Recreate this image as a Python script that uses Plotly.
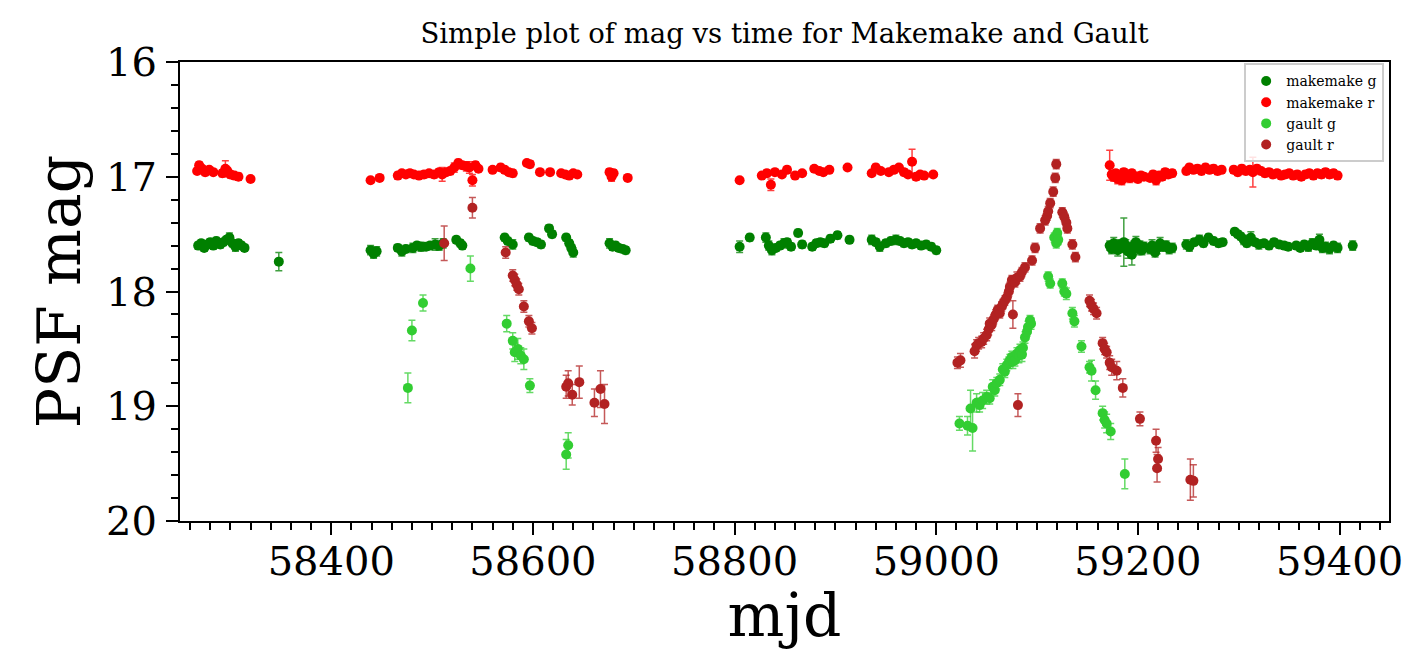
import plotly.graph_objects as go

# ---------------- data ----------------
# Makemake g
mm_g_mjd = [58268, 58271, 58274, 58277, 58280, 58283, 58286, 58290, 58293, 58296, 58299, 58302, 58305, 58308, 58311, 58314,
            58348,
            58439, 58442, 58445, 58466, 58470, 58474, 58481, 58485, 58489, 58494, 58498, 58503, 58507, 58511, 58524, 58528, 58530,
            58572, 58575, 58580, 58596, 58600, 58604, 58608, 58616, 58619, 58633, 58636, 58638, 58640,
            58676, 58679, 58682, 58685, 58689, 58692,
            58805, 58815, 58831, 58834, 58837, 58841, 58845, 58849, 58852, 58856, 58863, 58867, 58877, 58881, 58885, 58889,
            58895, 58902, 58914, 58936, 58940, 58944, 58950, 58955, 58960, 58964, 58968, 58972, 58976, 58980, 58985, 58990,
            58995, 59000,
            59172, 59174, 59176, 59178, 59180, 59182, 59184, 59186, 59188, 59190, 59192, 59194, 59196, 59198, 59200, 59202,
            59204, 59206, 59212, 59214, 59217, 59219, 59222, 59225, 59228, 59231, 59234,
            59248, 59251, 59256, 59261, 59265, 59270, 59275, 59280, 59284,
            59296, 59299, 59302, 59305, 59308, 59312, 59316, 59320, 59325, 59330, 59335, 59340, 59345, 59349,
            59357, 59361, 59365, 59369, 59373, 59377, 59380, 59383, 59386, 59390, 59394, 59398, 59413]
mm_g_mag = [17.60, 17.58, 17.62, 17.59, 17.57, 17.60, 17.56, 17.59, 17.57, 17.55, 17.53, 17.58, 17.61, 17.58, 17.60, 17.62,
            17.74,
            17.64, 17.67, 17.65, 17.62, 17.65, 17.63, 17.62, 17.60, 17.61, 17.61, 17.60, 17.59, 17.60, 17.58, 17.55, 17.58, 17.60,
            17.53, 17.56, 17.59, 17.53, 17.56, 17.57, 17.59, 17.45, 17.50, 17.53, 17.58, 17.62, 17.66,
            17.58, 17.61, 17.60, 17.62, 17.63, 17.64,
            17.61, 17.53, 17.53, 17.60, 17.64, 17.62, 17.60, 17.58, 17.57, 17.61, 17.49, 17.59, 17.61, 17.58, 17.57, 17.58,
            17.54, 17.51, 17.55, 17.55, 17.57, 17.61, 17.58, 17.56, 17.55, 17.56, 17.58, 17.57, 17.59, 17.58, 17.60, 17.59,
            17.61, 17.64,
            17.60, 17.63, 17.58, 17.61, 17.64, 17.59, 17.62, 17.57, 17.60, 17.65, 17.62, 17.68, 17.60, 17.57, 17.63, 17.60,
            17.64, 17.61, 17.63, 17.60, 17.66, 17.62, 17.58, 17.61, 17.60, 17.63, 17.62,
            17.59, 17.61, 17.57, 17.55, 17.58, 17.53, 17.56, 17.58, 17.57,
            17.48, 17.50, 17.52, 17.55, 17.58, 17.53, 17.57, 17.59, 17.58, 17.60, 17.57, 17.59, 17.60, 17.61,
            17.60, 17.62, 17.59, 17.61, 17.58, 17.60, 17.55, 17.62, 17.61, 17.63, 17.60, 17.62, 17.60]
mm_g_err = [0.03, 0.03, 0.03, 0.03, 0.03, 0.03, 0.03, 0.03, 0.03, 0.03, 0.04, 0.03, 0.04, 0.03, 0.03, 0.03,
            0.08,
            0.04, 0.04, 0.04, 0.03, 0.04, 0.03, 0.04, 0.03, 0.04, 0.03, 0.03, 0.05, 0.04, 0.04, 0.03, 0.03, 0.03,
            0.03, 0.03, 0.04, 0.03, 0.03, 0.03, 0.03, 0.03, 0.03, 0.03, 0.03, 0.03, 0.04,
            0.04, 0.03, 0.03, 0.03, 0.03, 0.03,
            0.05, 0.03, 0.04, 0.04, 0.04, 0.03, 0.03, 0.04, 0.03, 0.03, 0.03, 0.03, 0.03, 0.03, 0.03, 0.03,
            0.03, 0.03, 0.03, 0.04, 0.03, 0.04, 0.03, 0.03, 0.04, 0.03, 0.03, 0.03, 0.03, 0.03, 0.03, 0.03,
            0.03, 0.03,
            0.04, 0.04, 0.05, 0.04, 0.05, 0.04, 0.04, 0.21, 0.05, 0.06, 0.05, 0.09, 0.04, 0.05, 0.05, 0.04,
            0.04, 0.04, 0.04, 0.05, 0.04, 0.05, 0.05, 0.04, 0.04, 0.04, 0.04,
            0.04, 0.04, 0.03, 0.04, 0.03, 0.03, 0.03, 0.03, 0.03,
            0.03, 0.03, 0.03, 0.04, 0.03, 0.05, 0.03, 0.04, 0.03, 0.03, 0.03, 0.03, 0.03, 0.03,
            0.03, 0.03, 0.03, 0.04, 0.04, 0.03, 0.05, 0.04, 0.04, 0.04, 0.03, 0.04, 0.04]

# Makemake r
mm_r_mjd = [58267, 58269, 58272, 58275, 58279, 58283, 58292, 58295, 58297, 58300, 58304, 58308, 58320,
            58439, 58448, 58466, 58470, 58474, 58478, 58482, 58487, 58492, 58497, 58502, 58507, 58510, 58514, 58518, 58522,
            58526, 58530, 58534, 58537, 58540, 58543, 58546, 58560, 58568, 58572, 58576, 58580, 58594, 58597, 58607, 58617,
            58628, 58632, 58636, 58640, 58644, 58676, 58678, 58680, 58694,
            58805, 58827, 58832, 58836, 58840, 58847, 58852, 58860, 58867, 58879, 58884, 58888, 58894, 58912, 58936, 58940,
            58945, 58953, 58958, 58963, 58968, 58972, 58976, 58980, 58984, 58988, 58997,
            59172, 59174, 59176, 59178, 59180, 59182, 59184, 59186, 59188, 59190, 59192, 59194, 59197, 59200, 59203, 59206,
            59212, 59215, 59218, 59221, 59224, 59227, 59230, 59234,
            59248, 59251, 59255, 59259, 59263, 59267, 59271, 59275, 59279, 59283,
            59295, 59299, 59303, 59307, 59311, 59314, 59318, 59322, 59326, 59330, 59334, 59338, 59342, 59346, 59350, 59354,
            59358, 59362, 59366, 59370, 59374, 59378, 59382, 59386, 59390, 59394, 59398]
mm_r_mag = [16.95, 16.90, 16.93, 16.96, 16.94, 16.96, 16.97, 16.93, 16.95, 16.98, 16.99, 17.00, 17.02,
            17.03, 17.01, 16.99, 16.97, 16.98, 16.97, 16.98, 16.99, 16.98, 16.97, 16.98, 16.96, 16.98, 16.96, 16.95, 16.92,
            16.88, 16.90, 16.91, 16.92, 17.03, 16.90, 16.93, 16.94, 16.92, 16.94, 16.96, 16.97, 16.88, 16.89, 16.96, 16.96,
            16.97, 16.98, 16.99, 16.97, 16.98, 16.96, 17.00, 16.97, 17.01,
            17.03, 16.99, 16.97, 17.07, 16.96, 16.98, 16.94, 16.99, 16.97, 16.93, 16.95, 16.96, 16.94, 16.92, 16.97, 16.92,
            16.95, 16.96, 16.94, 16.92, 16.96, 16.98, 16.87, 17.00, 16.98, 16.99, 16.98,
            16.90, 16.98, 17.00, 16.97, 17.02, 16.99, 17.03, 16.96, 17.00, 16.98, 17.01, 16.97, 17.00, 17.02, 16.99, 17.00,
            17.01, 16.98, 17.03, 16.99, 17.00, 16.96, 16.98, 16.97,
            16.95, 16.92, 16.94, 16.93, 16.95, 16.92, 16.94, 16.93, 16.95, 16.94,
            16.94, 16.96, 16.93, 16.95, 16.94, 16.96, 16.93, 16.95, 16.97, 16.96, 16.98, 16.97, 16.99, 16.98, 16.97, 16.99,
            16.98, 17.00, 16.98, 16.97, 16.99, 16.97, 16.98, 16.96, 16.98, 16.97, 16.99]
mm_r_err = [0.02, 0.03, 0.02, 0.03, 0.02, 0.02, 0.03, 0.07, 0.03, 0.03, 0.02, 0.03, 0.02,
            0.02, 0.02, 0.03, 0.02, 0.02, 0.03, 0.02, 0.02, 0.03, 0.02, 0.03, 0.03, 0.06, 0.02, 0.03, 0.04,
            0.03, 0.03, 0.04, 0.05, 0.05, 0.03, 0.02, 0.02, 0.03, 0.03, 0.02, 0.03, 0.02, 0.03, 0.02, 0.02,
            0.02, 0.02, 0.03, 0.02, 0.02, 0.03, 0.04, 0.03, 0.02,
            0.02, 0.02, 0.03, 0.05, 0.02, 0.02, 0.03, 0.02, 0.02, 0.02, 0.02, 0.02, 0.02, 0.02, 0.02, 0.03,
            0.02, 0.02, 0.03, 0.02, 0.03, 0.02, 0.11, 0.03, 0.02, 0.02, 0.02,
            0.13, 0.03, 0.04, 0.03, 0.04, 0.03, 0.04, 0.03, 0.04, 0.03, 0.04, 0.03, 0.04, 0.03, 0.03, 0.03,
            0.03, 0.03, 0.04, 0.03, 0.03, 0.03, 0.03, 0.03,
            0.03, 0.03, 0.03, 0.03, 0.03, 0.03, 0.03, 0.03, 0.03, 0.03,
            0.03, 0.03, 0.03, 0.03, 0.03, 0.13, 0.03, 0.03, 0.03, 0.03, 0.03, 0.03, 0.03, 0.03, 0.03, 0.03,
            0.03, 0.03, 0.03, 0.03, 0.03, 0.03, 0.03, 0.03, 0.03, 0.03, 0.03]

# Gault g
ga_g_mjd = [58476, 58480, 58491, 58538, 58574, 58580, 58582, 58585, 58588, 58591, 58597, 58633, 58635,
            59023, 59031, 59034, 59036, 59040, 59043, 59046, 59050, 59053, 59056, 59058, 59060, 59063, 59066, 59068, 59070,
            59072, 59073, 59075, 59076, 59078, 59080, 59082, 59083, 59085, 59086, 59088, 59090, 59091, 59093, 59094,
            59111, 59113, 59117, 59119, 59120, 59121, 59125, 59127, 59129, 59135, 59137, 59144, 59152, 59154, 59158,
            59165, 59167, 59169, 59173, 59187]
ga_g_mag = [18.84, 18.34, 18.10, 17.80, 18.28, 18.43, 18.53, 18.50, 18.56, 18.59, 18.82, 19.42, 19.34,
            19.15, 19.17, 19.02, 19.19, 18.97, 18.99, 18.95, 18.92, 18.93, 18.83, 18.86, 18.80, 18.77, 18.68, 18.70, 18.64,
            18.62, 18.60, 18.57, 18.61, 18.60, 18.54, 18.56, 18.51, 18.55, 18.49, 18.40, 18.35, 18.31, 18.25, 18.28,
            17.87, 17.93, 17.53, 17.58, 17.49, 17.55, 17.93, 18.00, 18.02, 18.19, 18.26, 18.48, 18.66, 18.69, 18.86,
            19.06, 19.12, 19.15, 19.22, 19.59]
ga_g_err = [0.13, 0.09, 0.07, 0.11, 0.07, 0.07, 0.08, 0.09, 0.07, 0.09, 0.06, 0.13, 0.11,
            0.06, 0.08, 0.16, 0.20, 0.08, 0.06, 0.07, 0.06, 0.05, 0.06, 0.05, 0.05, 0.05, 0.05, 0.05, 0.05,
            0.05, 0.05, 0.05, 0.06, 0.05, 0.05, 0.06, 0.05, 0.06, 0.05, 0.05, 0.04, 0.05, 0.04, 0.05,
            0.04, 0.04, 0.04, 0.04, 0.04, 0.04, 0.04, 0.04, 0.05, 0.05, 0.05, 0.05, 0.05, 0.09, 0.08,
            0.06, 0.07, 0.08, 0.07, 0.13]

# Gault r
ga_r_mjd = [58512, 58540, 58573, 58580, 58582, 58584, 58586, 58591, 58596, 58599, 58633, 58635, 58639, 58646, 58661,
            58667, 58671,
            59021, 59024, 59038, 59040, 59042, 59045, 59047, 59050, 59052, 59053, 59055, 59057, 59059, 59061, 59063, 59065,
            59066, 59068, 59070, 59072, 59073, 59075, 59076, 59078, 59080, 59081, 59083, 59085, 59088, 59095, 59098, 59103,
            59108, 59110, 59111, 59113, 59116, 59118, 59119, 59125, 59127, 59129, 59130, 59135, 59138, 59152, 59154, 59156,
            59159, 59165, 59167, 59169, 59172, 59174, 59179, 59185, 59202, 59218, 59219, 59220, 59252, 59255]
ga_r_mag = [17.58, 17.27, 17.66, 17.86, 17.90, 17.94, 17.98, 18.13, 18.26, 18.32, 18.83, 18.80, 18.90, 18.79, 18.97,
            18.85, 18.98,
            18.62, 18.60, 18.52, 18.47, 18.45, 18.44, 18.41, 18.38, 18.33, 18.28, 18.29, 18.24, 18.20, 18.16, 18.19, 18.13,
            18.11, 18.08, 18.05, 18.00, 17.96, 17.90, 18.20, 17.92, 17.88, 18.99, 17.87, 17.83, 17.79, 17.73, 17.62, 17.45,
            17.38, 17.34, 17.30, 17.23, 17.13, 17.01, 16.89, 17.31, 17.35, 17.40, 17.45, 17.59, 17.70, 18.08, 18.12, 18.15,
            18.19, 18.45, 18.50, 18.53, 18.62, 18.66, 18.69, 18.84, 19.11, 19.30, 19.54, 19.46, 19.64, 19.65]
ga_r_err = [0.15, 0.09, 0.05, 0.05, 0.05, 0.05, 0.05, 0.05, 0.05, 0.05, 0.10, 0.11, 0.09, 0.14, 0.12,
            0.16, 0.17,
            0.05, 0.06, 0.06, 0.05, 0.05, 0.05, 0.05, 0.05, 0.05, 0.05, 0.05, 0.04, 0.04, 0.04, 0.04, 0.04,
            0.04, 0.04, 0.04, 0.04, 0.04, 0.04, 0.12, 0.04, 0.05, 0.10, 0.04, 0.04, 0.04, 0.04, 0.04, 0.04,
            0.04, 0.04, 0.04, 0.04, 0.04, 0.04, 0.04, 0.04, 0.04, 0.04, 0.04, 0.04, 0.04, 0.05, 0.05, 0.05,
            0.05, 0.05, 0.05, 0.05, 0.06, 0.07, 0.08, 0.08, 0.06, 0.10, 0.12, 0.10, 0.18, 0.14]

series_names = ["makemake g", "makemake r", "gault g", "gault r"]
x_ticks = [58400, 58600, 58800, 59000, 59200, 59400]
y_ticks = [16, 17, 18, 19, 20]
title_text = "Simple plot of mag vs time for Makemake and Gault"
x_label = "mjd"
y_label = "PSF mag"

# ---------------- figure ----------------
FONT = "DejaVu Serif"
colors = ["#008000", "#ff0000", "#32cd32", "#b22222"]
err_colors = ["rgba(0,128,0,0.75)", "rgba(255,0,0,0.75)", "rgba(50,205,50,0.75)", "rgba(178,34,34,0.75)"]
data = [(mm_g_mjd, mm_g_mag, mm_g_err), (mm_r_mjd, mm_r_mag, mm_r_err),
        (ga_g_mjd, ga_g_mag, ga_g_err), (ga_r_mjd, ga_r_mag, ga_r_err)]

fig = go.Figure()
for (xs, ys, es), name, c, ec in zip(data, series_names, colors, err_colors):
    fig.add_trace(go.Scatter(
        x=xs, y=ys, mode="markers", name=name,
        marker=dict(color=c, size=10, line=dict(width=0)),
        error_y=dict(type="data", array=es, visible=True, color=ec, thickness=1.5, width=3.5),
    ))

# page body has an 8px default margin, so the figure is 16px smaller than the window
W, H = 1394, 642
fig.update_layout(
    width=W, height=H, autosize=False,
    margin=dict(l=172, r=13, t=54, b=129, autoexpand=False),
    plot_bgcolor="white", paper_bgcolor="white",
    font=dict(family=FONT, color="black"),
    title=dict(text=title_text, x=0.5, xref="paper", xanchor="center",
               y=1 - 25 / H, yref="container", yanchor="middle",
               font=dict(family=FONT, size=27.5, color="black")),
    legend=dict(x=0.996, y=0.997, xanchor="right", yanchor="top",
                bgcolor="rgba(255,255,255,0.85)", bordercolor="#cccccc", borderwidth=2,
                font=dict(family=FONT, size=14, color="black")),
    showlegend=True,
)

fig.update_xaxes(
    range=[58250, 59449], tickvals=x_ticks, ticktext=[str(t) for t in x_ticks],
    showline=True, linewidth=2, linecolor="black", mirror=True, automargin=False,
    ticks="outside", ticklen=12, tickwidth=2, tickcolor="black",
    minor=dict(ticks="outside", ticklen=7, tickwidth=1.5, tickcolor="black", dtick=20, tick0=58400),
    showgrid=False, zeroline=False, ticklabeloverflow="allow",
    tickfont=dict(family=FONT, size=40, color="black"), ticklabelstandoff=-8,
    title=dict(text=x_label, font=dict(family=FONT, size=60, color="black"), standoff=10),
)
fig.update_yaxes(
    range=[20, 16], tickvals=y_ticks, ticktext=[str(t) for t in y_ticks],
    showline=True, linewidth=2, linecolor="black", mirror=True, automargin=False,
    ticks="outside", ticklen=12, tickwidth=2, tickcolor="black",
    minor=dict(ticks="outside", ticklen=7, tickwidth=1.5, tickcolor="black", dtick=0.2, tick0=16),
    showgrid=False, zeroline=False, ticklabeloverflow="allow",
    tickfont=dict(family=FONT, size=40, color="black"), ticklabelstandoff=1,
    title=dict(text=y_label, font=dict(family=FONT, size=60, color="black"), standoff=6),
)

fig.write_html("out.html")
